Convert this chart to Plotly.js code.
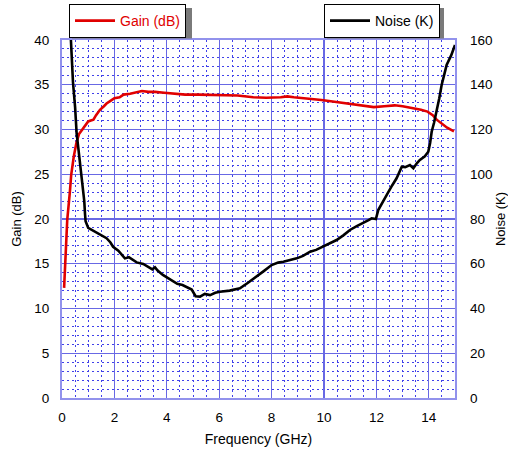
<!DOCTYPE html>
<html><head><meta charset="utf-8">
<script src="https://cdn.plot.ly/plotly-3.0.1.min.js"></script>
<style>html,body{margin:0;padding:0;background:#fff}#c{width:508px;height:449px}</style>
</head><body><div id="c"></div>
<script>
const gainFreq = [0.08,0.15,0.2,0.3,0.35,0.45,0.55,0.65,0.75,0.9,1.0,1.1,1.2,1.3,1.45,1.6,1.7,1.85,2.0,2.2,2.35,2.6,2.9,3.05,3.3,3.55,3.9,4.2,4.7,5.2,5.7,6.2,6.7,7.3,7.8,8.35,8.6,8.85,9.3,9.9,10.4,10.9,11.4,11.9,12.3,12.7,13.0,13.4,13.7,13.95,14.15,14.3,14.5,14.7,14.96];
const gainDb = [12.3,16,19.9,23,24.9,27,28.5,29.5,29.9,30.4,30.9,31.0,31.1,31.6,32.2,32.6,32.9,33.2,33.5,33.6,33.9,34.0,34.2,34.3,34.2,34.2,34.1,34.0,33.9,33.9,33.85,33.8,33.8,33.6,33.55,33.6,33.7,33.6,33.5,33.3,33.1,32.9,32.7,32.5,32.6,32.7,32.6,32.4,32.2,32.0,31.6,31.1,30.7,30.2,29.8];
const noiseFreq = [0.34,0.38,0.42,0.5,0.56,0.62,0.72,0.8,0.85,0.88,0.9,1.0,1.15,1.3,1.45,1.55,1.7,1.85,1.95,2.15,2.3,2.4,2.55,2.7,2.85,3.1,3.35,3.45,3.55,3.65,3.85,4.2,4.4,4.6,4.95,5.1,5.27,5.45,5.65,5.85,6.03,6.4,6.79,7.1,7.43,7.7,8.0,8.25,8.45,8.7,8.96,9.2,9.47,9.7,9.97,10.2,10.48,10.75,10.99,11.25,11.5,11.7,11.82,11.98,12.07,12.25,12.39,12.6,12.77,12.97,13.1,13.28,13.41,13.55,13.66,13.85,13.98,14.05,14.11,14.2,14.3,14.4,14.49,14.6,14.68,14.85,15.0];
const noiseK = [160,150,141,130,118,112,102,95,88,82,79,76,75,74,73,72.5,71.4,69.5,67.6,65.8,63.5,62.4,62.9,61.6,60.6,59.9,58.4,57.5,58.4,57,55,52.5,51,50.5,48.5,45.5,45.3,46.5,46,47,47.5,48,49,51.5,54.2,56.7,59.4,60.5,60.9,61.5,62.4,63.5,65.4,66.2,67.6,69,70.6,72.8,75.1,76.8,78.1,79.5,80.3,80.0,84,87.5,90.7,95,98.2,103.4,103.2,104.1,102.7,105,106.4,108,110.1,114,119,123,128,134,139.9,145,148.8,153,157.8];

const FONT = 'Liberation Sans, Arial, sans-serif';
const L = 62, T = 40, PW = 393, PH = 358;
const px2x = function (p) { return (p - L) / PW; };
const px2y = function (p) { return (T + PH - p) / PH; };
const data = [
  {x: gainFreq, y: gainDb, name: 'Gain (dB)', type: 'scatter', mode: 'lines',
   line: {color: '#e00000', width: 2.6}, yaxis: 'y', legend: 'legend'},
  {x: noiseFreq, y: noiseK, name: 'Noise (K)', type: 'scatter', mode: 'lines',
   line: {color: '#000000', width: 2.6}, yaxis: 'y2', legend: 'legend2'}
];
const gridMaj = '#6868e4';
const gridMin = '#4040ea';
const legCommon = {orientation: 'v', itemwidth: 40, yanchor: 'top', y: px2y(4),
  bgcolor: '#fff', bordercolor: '#000', borderwidth: 1};
function shadow(l, r, t, b) {
  return {type: 'rect', xref: 'paper', yref: 'paper', x0: px2x(l), x1: px2x(r), y0: px2y(b), y1: px2y(t),
    fillcolor: '#7a7a7a', line: {width: 0}, layer: 'above'};
}
const layout = {
  width: 508, height: 449,
  margin: {l: L, r: 508 - L - PW, t: T, b: 449 - T - PH, pad: 0, autoexpand: false},
  paper_bgcolor: '#ffffff', plot_bgcolor: '#ffffff',
  font: {family: FONT, size: 13.5, color: '#000'},
  showlegend: true,
  xaxis: {range: [0, 15], dtick: 2, tick0: 0, showgrid: true, gridcolor: gridMaj, gridwidth: 1.2,
    minor: {dtick: 0.5, showgrid: true, gridcolor: gridMin, griddash: '2px,3px', gridwidth: 1},
    showline: true, linecolor: '#9292ec', linewidth: 2, mirror: true, zeroline: false,
    ticks: '', ticklabelstandoff: 6, tickfont: {size: 13.5, family: FONT},
    title: {text: 'Frequency (GHz)', font: {size: 14, family: FONT}, standoff: 10}},
  yaxis: {range: [0, 40], dtick: 5, tick0: 0, showgrid: true, gridcolor: gridMaj, gridwidth: 1.2,
    minor: {dtick: 1, showgrid: true, gridcolor: gridMin, griddash: '2px,3px', gridwidth: 1},
    showline: true, linecolor: '#9292ec', linewidth: 2, mirror: true, zeroline: false,
    ticks: '', ticklabelstandoff: 8, tickfont: {size: 13.5, family: FONT},
    title: {text: 'Gain (dB)', font: {size: 13, family: FONT}, standoff: 10}},
  yaxis2: {range: [0, 160], dtick: 20, tick0: 0, overlaying: 'y', side: 'right', showgrid: false,
    zeroline: false, showline: false, ticks: '', ticklabelstandoff: 14, tickfont: {size: 13.5, family: FONT},
    title: {text: 'Noise (K)', font: {size: 13, family: FONT}, standoff: 6}},
  legend: Object.assign({}, legCommon, {x: px2x(69), xanchor: 'left',
    font: {color: '#e00000', size: 14, family: FONT}}),
  legend2: Object.assign({}, legCommon, {x: px2x(324), xanchor: 'left',
    font: {color: '#000', size: 14, family: FONT}}),
  shapes: [shadow(72, 192, 8, 38.5), shadow(327, 444, 8, 38.5)]
};
Plotly.newPlot('c', data, layout, {displayModeBar: false, staticPlot: true});
</script></body></html>
